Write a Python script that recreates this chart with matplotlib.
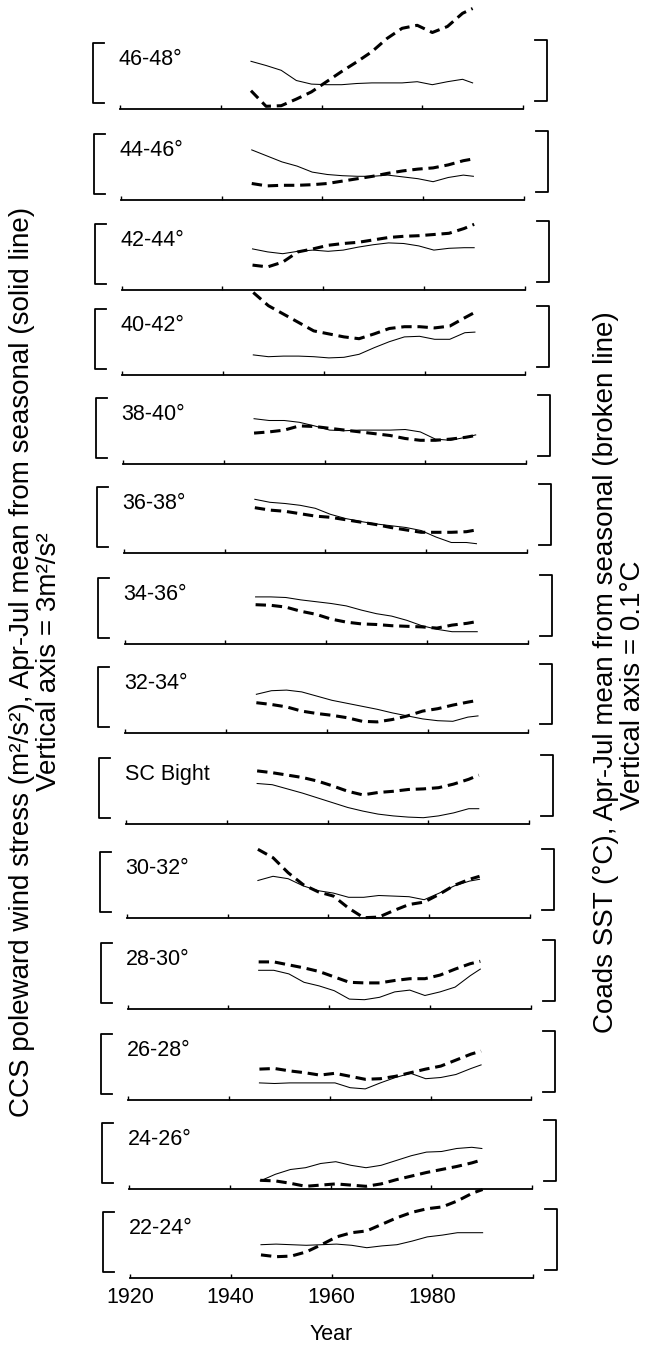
import matplotlib
matplotlib.use("Agg")
import matplotlib.pyplot as plt
from matplotlib import font_manager
from matplotlib.lines import Line2D

# ---- data ----
years = [1946, 1949, 1952, 1955, 1958, 1961, 1964, 1967, 1970, 1973, 1976, 1979, 1982, 1985, 1988, 1990]

bands = ["46-48°", "44-46°", "42-44°", "40-42°", "38-40°", "36-38°", "34-36°",
         "32-34°", "SC Bight", "30-32°", "28-30°", "26-28°", "24-26°", "22-24°"]

# poleward wind stress (m2/s2), measured from the bottom of each bracket (bracket = 3 m2/s2)
wind_46_48 = [2.01, 1.80, 1.56, 1.05, 0.87, 0.84, 0.84, 0.90, 0.93, 0.93, 0.93, 0.99, 0.84, 0.99, 1.11, 0.93]
wind_44_46 = [2.13, 1.83, 1.53, 1.32, 1.02, 0.90, 0.84, 0.81, 0.81, 0.87, 0.78, 0.69, 0.54, 0.75, 0.87, 0.81]
wind_42_44 = [1.68, 1.53, 1.44, 1.56, 1.62, 1.56, 1.62, 1.77, 1.89, 1.98, 1.95, 1.83, 1.62, 1.71, 1.74, 1.74]
wind_40_42 = [0.63, 0.54, 0.57, 0.57, 0.54, 0.48, 0.51, 0.66, 0.99, 1.29, 1.53, 1.56, 1.41, 1.41, 1.74, 1.77]
wind_38_40 = [1.89, 1.80, 1.80, 1.71, 1.53, 1.32, 1.29, 1.32, 1.32, 1.32, 1.35, 1.23, 0.87, 0.81, 0.96, 1.08]
wind_36_38 = [2.31, 2.16, 2.10, 2.01, 1.86, 1.56, 1.35, 1.20, 1.08, 0.99, 0.90, 0.75, 0.42, 0.15, 0.15, 0.09]
wind_34_36 = [1.98, 1.98, 1.95, 1.83, 1.74, 1.65, 1.53, 1.32, 1.14, 1.02, 0.81, 0.54, 0.36, 0.24, 0.24, 0.24]
wind_32_34 = [1.56, 1.74, 1.77, 1.68, 1.47, 1.26, 1.11, 0.96, 0.81, 0.63, 0.48, 0.33, 0.24, 0.21, 0.42, 0.48]
wind_sc = [1.65, 1.59, 1.38, 1.17, 0.93, 0.69, 0.45, 0.27, 0.12, 0.03, -0.03, -0.06, 0.03, 0.18, 0.39, 0.39]
wind_30_32 = [1.50, 1.71, 1.59, 1.23, 0.99, 0.87, 0.66, 0.66, 0.75, 0.72, 0.69, 0.54, 0.87, 1.23, 1.47, 1.56]
wind_28_30 = [1.56, 1.56, 1.38, 0.96, 0.78, 0.54, 0.12, 0.09, 0.21, 0.48, 0.57, 0.30, 0.48, 0.72, 1.29, 1.62]
wind_26_28 = [0.48, 0.45, 0.48, 0.48, 0.48, 0.48, 0.24, 0.18, 0.48, 0.75, 0.96, 0.69, 0.75, 0.90, 1.20, 1.38]
wind_24_26 = [0.03, 0.36, 0.60, 0.69, 0.90, 0.99, 0.81, 0.69, 0.81, 1.05, 1.29, 1.47, 1.50, 1.65, 1.71, 1.65]
wind_22_24 = [1.29, 1.32, 1.29, 1.26, 1.29, 1.32, 1.26, 1.14, 1.23, 1.29, 1.47, 1.68, 1.77, 1.89, 1.89, 1.89]

# COADS SST (deg C), measured from the bottom of each bracket (bracket = 0.1 C)
sst_46_48 = [0.018, -0.008, -0.007, 0.004, 0.016, 0.033, 0.050, 0.066, 0.083, 0.105, 0.122, 0.127, 0.115, 0.125, 0.147, 0.155]
sst_44_46 = [0.015, 0.011, 0.012, 0.012, 0.013, 0.015, 0.019, 0.023, 0.027, 0.032, 0.036, 0.039, 0.041, 0.046, 0.053, 0.056]
sst_42_44 = [0.029, 0.026, 0.034, 0.051, 0.056, 0.062, 0.065, 0.067, 0.071, 0.075, 0.077, 0.078, 0.080, 0.082, 0.090, 0.097]
sst_40_42 = [0.125, 0.103, 0.089, 0.075, 0.061, 0.056, 0.051, 0.048, 0.056, 0.065, 0.068, 0.068, 0.066, 0.069, 0.083, 0.092]
sst_38_40 = [0.039, 0.041, 0.044, 0.051, 0.050, 0.047, 0.044, 0.041, 0.038, 0.035, 0.030, 0.027, 0.027, 0.029, 0.032, 0.035]
sst_36_38 = [0.063, 0.059, 0.057, 0.053, 0.049, 0.047, 0.043, 0.039, 0.035, 0.030, 0.026, 0.022, 0.022, 0.022, 0.023, 0.026]
sst_34_36 = [0.053, 0.052, 0.049, 0.042, 0.037, 0.029, 0.024, 0.021, 0.020, 0.018, 0.017, 0.016, 0.014, 0.019, 0.022, 0.025]
sst_32_34 = [0.038, 0.035, 0.031, 0.024, 0.020, 0.017, 0.013, 0.007, 0.006, 0.010, 0.016, 0.024, 0.028, 0.034, 0.039, 0.042]
sst_sc = [0.076, 0.073, 0.069, 0.065, 0.059, 0.051, 0.042, 0.036, 0.040, 0.042, 0.045, 0.046, 0.048, 0.054, 0.062, 0.069]
sst_30_32 = [0.102, 0.088, 0.063, 0.043, 0.031, 0.024, 0.004, -0.012, -0.011, 0.000, 0.010, 0.014, 0.027, 0.042, 0.052, 0.057]
sst_28_30 = [0.066, 0.066, 0.061, 0.056, 0.050, 0.041, 0.032, 0.031, 0.031, 0.035, 0.038, 0.038, 0.044, 0.054, 0.063, 0.067]
sst_26_28 = [0.039, 0.040, 0.036, 0.033, 0.029, 0.032, 0.027, 0.022, 0.023, 0.027, 0.033, 0.039, 0.044, 0.054, 0.064, 0.069]
sst_24_26 = [0.002, 0.001, -0.003, -0.008, -0.006, -0.004, -0.006, -0.008, -0.004, 0.003, 0.009, 0.015, 0.020, 0.025, 0.031, 0.036]
sst_22_24 = [0.026, 0.023, 0.024, 0.031, 0.043, 0.056, 0.063, 0.066, 0.077, 0.088, 0.097, 0.103, 0.106, 0.116, 0.129, 0.135]

wind = [wind_46_48, wind_44_46, wind_42_44, wind_40_42, wind_38_40, wind_36_38, wind_34_36,
        wind_32_34, wind_sc, wind_30_32, wind_28_30, wind_26_28, wind_24_26, wind_22_24]
sst = [sst_46_48, sst_44_46, sst_42_44, sst_40_42, sst_38_40, sst_36_38, sst_34_36,
       sst_32_34, sst_sc, sst_30_32, sst_28_30, sst_26_28, sst_24_26, sst_22_24]

tick_years = [1920, 1940, 1960, 1980, 2000]
tick_text = ["1920", "1940", "1960", "1980", ""]

# ---- layout (pixels of the 649 x 1349 image) ----
W, H = 649, 1349
axis_y = [109, 200, 290, 375, 464, 553, 644, 733, 824, 918, 1009, 1100, 1189, 1278]
ax_w = 403
ax_h = 70
px_per_unit = 20.0  # 60 px bracket = 3 m2/s2
base = 7.5  # bracket bottom above the axis line

names = {f.name for f in font_manager.fontManager.ttflist}
narrow = "Liberation Sans Narrow" if "Liberation Sans Narrow" in names else "Liberation Sans"
tick_size = 17 if narrow == "Liberation Sans Narrow" else 15.5
plt.rcParams["font.family"] = ["Liberation Sans", "DejaVu Sans"]


def fx(x):
    return x / W


def fy(y):
    return 1 - y / H


fig = plt.figure(figsize=(W / 100, H / 100), dpi=100)

n = len(bands)
for i in range(n):
    x0 = 120 + 10.0 * i / (n - 1)
    ya = axis_y[i]
    ax = fig.add_axes((fx(x0), fy(ya), ax_w / W, ax_h / H))
    ax.set_xlim(1920, 2000)
    lo = -base / px_per_unit
    hi = (ax_h - base) / px_per_unit
    ax.set_ylim(lo, hi)
    ax.patch.set_visible(False)
    for s in ["top", "left", "right"]:
        ax.spines[s].set_visible(False)
    ax.spines["bottom"].set_linewidth(1.3)
    ax.set_yticks([])
    ax.set_xticks(tick_years)
    ax.tick_params(axis="x", direction="in", length=3, width=1.0, pad=6.5,
                   labelsize=tick_size, labelfontfamily=narrow)
    if i == n - 1:
        ax.set_xticklabels(tick_text)
    else:
        ax.tick_params(axis="x", labelbottom=False)

    ax.plot(years, wind[i], color="black", lw=0.75, clip_on=False)

    ax2 = ax.twinx()
    ax2.set_ylim(lo / 30, hi / 30)
    ax2.axis("off")
    ax2.plot(years, sst[i], color="black", lw=2.2, linestyle=(0, (3.4, 1.9)),
             solid_capstyle="butt", clip_on=False)

    # brackets
    lx, rx = x0 - 27, x0 + 427
    lb = [(x0 - 16, ya - 66), (lx, ya - 66), (lx, ya - 6), (x0 - 16, ya - 6)]
    rb = [(x0 + 415, ya - 69), (rx, ya - 69), (rx, ya - 8.5), (x0 + 415, ya - 8.5)]
    for pts in (lb, rb):
        fig.add_artist(Line2D([fx(p[0]) for p in pts], [fy(p[1]) for p in pts],
                              color="black", lw=1.3))

    fig.text(fx(x0 - 1.5), fy(ya - 44), bands[i], fontsize=15.5, ha="left", va="baseline")

fig.text(fx(331), fy(1334), "Year", fontsize=tick_size, family=narrow, ha="center", va="center")

fig.text(fx(22), fy(662), "CCS poleward wind stress (m²/s²), Apr-Jul mean from seasonal (solid line)",
         rotation=90, fontsize=20, ha="center", va="center")
fig.text(fx(49), fy(662), "Vertical axis = 3m²/s²",
         rotation=90, fontsize=20, ha="center", va="center")
fig.text(fx(606), fy(672), "Coads SST (°C), Apr-Jul mean from seasonal (broken line)",
         rotation=90, fontsize=20, ha="center", va="center")
fig.text(fx(633), fy(685), "Vertical axis = 0.1°C",
         rotation=90, fontsize=20, ha="center", va="center")

fig.savefig("out.png", dpi=100)
